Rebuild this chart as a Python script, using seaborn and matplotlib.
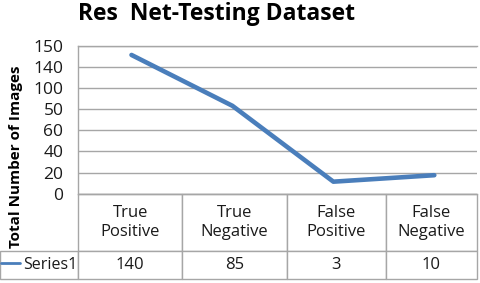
import pandas as pd
import seaborn as sns
import matplotlib.pyplot as plt

# data
categories = ["True\nPositive", "True\nNegative", "False\nPositive", "False\nNegative"]
values = [140, 85, 3, 10]
series_name = "Series1"
y_tick_labels = ["0", "20", "40", "60", "50", "100", "140", "150"]
title = "Res  Net-Testing Dataset"
y_label = "Total Number of Images"

sns.set_theme(style="white")
plt.rcParams["font.family"] = ["Open Sans", "DejaVu Sans"]

df = pd.DataFrame({"category": categories, "count": values})

W, H = 480, 283
fig = plt.figure(figsize=(W / 100, H / 100), dpi=100)
ax_left, ax_right, ax_top, ax_bottom = 78, 476.7, 45.7, 193.7
ax = fig.add_axes([ax_left / W, 1 - ax_bottom / H,
                   (ax_right - ax_left) / W, (ax_bottom - ax_top) / H])

blue = "#4a7ebb"
grid = "#a6a6a6"

sns.lineplot(data=df, x="category", y="count", sort=False, color=blue,
             linewidth=3.3, solid_capstyle="round", label=series_name, ax=ax)

ax.set_xlim(-0.53, 3.42)
ax.set_ylim(-10, 150)
yt = [-10 + i * 160 / 7 for i in range(8)]
ax.set_yticks(yt)
ax.set_yticklabels(y_tick_labels, fontsize=12.5, color="#1a1a1a")
ax.set_xticks([])
ax.set_xlabel("")
ax.set_ylabel("")
ax.tick_params(axis="y", length=0, pad=10.5)
ax.yaxis.grid(True, color=grid, linewidth=1)
for s in ["top", "bottom", "left"]:
    ax.spines[s].set_color(grid)
    ax.spines[s].set_linewidth(1)
ax.spines["right"].set_visible(False)

# data table under the plot
ax_w = ax_right - ax_left
ax_h = ax_bottom - ax_top
tbl_bottom = 279
cell_text = [[""] + categories, [""] + [str(v) for v in values]]
tbl = ax.table(cellText=cell_text, cellLoc="center",
               bbox=[-ax_left / ax_w, -(tbl_bottom - ax_bottom) / ax_h,
                     ax_right / ax_w, (tbl_bottom - ax_bottom) / ax_h])
tbl.auto_set_font_size(False)
col_w = [78, 104.3, 104.7, 99, 90.7]
row_h = [57.3, 28]
for (r, c), cell in tbl.get_celld().items():
    cell.set_width(col_w[c])
    cell.set_height(row_h[r])
    cell.set_edgecolor(grid)
    cell.set_linewidth(1)
    cell.get_text().set_fontsize(12)
    cell.get_text().set_color("#1a1a1a")
    cell.get_text().set_linespacing(1.2)
tbl[0, 0].visible_edges = "open"

# legend key sits in the row label cell
leg = ax.legend(loc="center left",
                bbox_to_anchor=(-(ax_left - 1) / ax_w, -(265 - ax_bottom) / ax_h),
                frameon=False, handlelength=1.2, handletextpad=0.2,
                borderaxespad=0, borderpad=0, fontsize=11.5)
for h in leg.get_lines():
    h.set_linewidth(2)
for t in leg.get_texts():
    t.set_color("#1a1a1a")

fig.text(217 / W, 1 - 20 / H, title, ha="center", va="baseline",
         fontsize=16.5, fontweight="bold", color="black")
fig.text(16 / W, 1 - 157 / H, y_label, rotation=90, ha="center", va="center",
         fontsize=11, fontweight="bold", color="black")

fig.savefig("out.png", dpi=100)
